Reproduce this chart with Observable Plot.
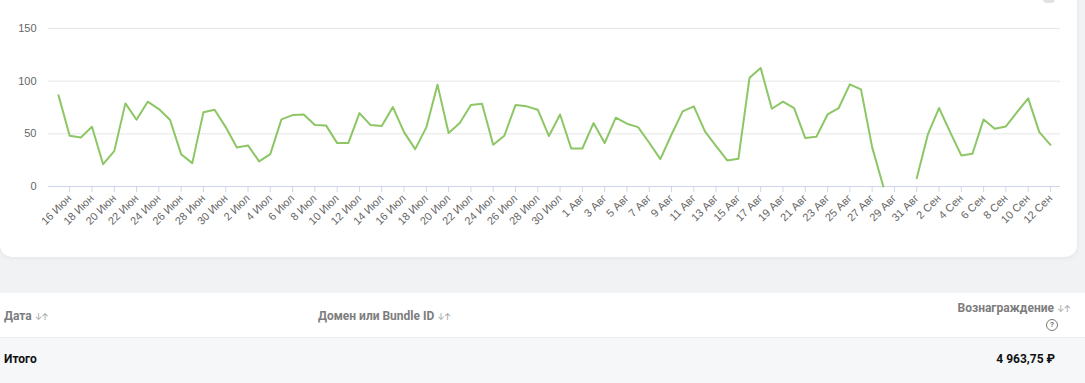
<!DOCTYPE html>
<html>
<head>
<meta charset="utf-8">
<script src="https://cdn.jsdelivr.net/npm/d3@7"></script>
<script src="https://cdn.jsdelivr.net/npm/@observablehq/plot@0.6"></script>
<style>
  html, body { margin: 0; padding: 0; }
  body { width: 1085px; height: 383px; overflow: hidden; position: relative; background: #f1f2f4; font-family: Roboto, Inter, "Noto Sans", sans-serif; }
  .card { position: absolute; left: 0; top: -12px; width: 1077px; height: 269px; background: #fff; border-radius: 12px; box-shadow: 0 1px 5px rgba(0,0,0,0.06); }
  #chart { position: absolute; left: 0; top: 0; }
  .topicon { position: absolute; left: 1043px; top: -6px; width: 12px; height: 9px; border-radius: 4px; background: #e2e2e2; }
  .thead { position: absolute; left: 0; top: 293px; width: 1085px; height: 45px; background: #fff; border-bottom: 1px solid #ebecee; box-sizing: border-box; }
  .trow { position: absolute; left: 0; top: 338px; width: 1085px; height: 45px; background: #f6f7f9; }
  .h { position: absolute; font-weight: 700; font-size: 12px; color: #7d7d7d; white-space: nowrap; line-height: 14px; }
  .s { font-size: 9px; color: #a0a0a0; font-weight: 400; margin-left: 3px; letter-spacing: -1px; }
  .q { position: absolute; left: 1046px; top: 26px; width: 10px; height: 10px; border: 1px solid #777; border-radius: 50%; font-size: 8px; line-height: 10px; text-align: center; color: #666; font-weight: 600; }
  .c { position: absolute; font-weight: 700; font-size: 12px; color: #111; white-space: nowrap; line-height: 14px; }
</style>
</head>
<body>
<div class="card"></div>
<div class="topicon"></div>
<div id="chart"></div>
<div class="thead">
  <div class="h" style="left:4px;top:16px">Дата<span class="s">↓↑</span></div>
  <div class="h" style="left:318px;top:16px">Домен или Bundle ID<span class="s">↓↑</span></div>
  <div class="h" style="right:15px;top:8px">Вознаграждение<span class="s">↓↑</span></div>
  <div class="q">?</div>
</div>
<div class="trow">
  <div class="c" style="left:4px;top:14px">Итого</div>
  <div class="c" style="right:30px;top:14px">4 963,75 ₽</div>
</div>
<script>
const months = ["Янв","Фев","Мар","Апр","Май","Июн","Июл","Авг","Сен","Окт","Ноя","Дек"];
const startDay = "2023-06-15";
const endDay = "2023-09-12";
// daily reward values, 15 Jun .. 12 Sep (null = no data)
const juneValues = [86.5, 48.2, 46.6, 56.7, 21.2, 33.6, 78.9, 63.4, 80.5, 73.5, 63.4, 30.7, 22.2, 70.4, 72.9, 56.4];
const julyValues = [37.1, 39.0, 23.8, 30.7, 63.7, 67.8, 68.4, 58.3, 58.0, 41.2, 41.2, 69.7, 58.3, 57.4, 75.4, 51.6, 35.5, 56.1, 96.7, 50.7, 60.2, 77.3, 78.6, 39.6, 48.2, 77.3, 76.1, 72.9, 47.9, 68.4, 36.1];
const augustValues = [36.1, 60.2, 41.2, 65.3, 59.6, 56.4, 41.5, 26.0, 49.4, 71.3, 76.1, 52.3, 38.3, 24.7, 26.3, 103.3, 112.5, 73.8, 80.5, 74.5, 46.0, 47.2, 68.4, 74.5, 97.0, 92.2, 37.4, 0, null, null, 7.9];
const septemberValues = [49.4, 74.5, 51.6, 29.5, 31.1, 63.7, 54.8, 57.0, 70.7, 83.7, 51.6, 39.6];
const yTicks = [0, 50, 100, 150];

const values = [...juneValues, ...julyValues, ...augustValues, ...septemberValues];
const start = new Date(startDay + "T00:00:00Z");
const end = new Date(endDay + "T00:00:00Z");
const dates = d3.utcDays(start, d3.utcDay.offset(end, 1));
const data = dates.map((d, i) => ({date: d, value: values[i]}));
const tickDates = dates.filter((d, i) => i % 2 === 1);
const fmt = d => `${d.getUTCDate()} ${months[d.getUTCMonth()]}`;
const pad = 0.9 * 864e5;

const chart = Plot.plot({
  width: 1085,
  height: 257,
  marginLeft: 48,
  marginRight: 25,
  marginTop: 28,
  marginBottom: 71,
  style: {fontFamily: "'Liberation Sans', Arial, sans-serif", fontSize: "11px", background: "transparent", overflow: "visible"},
  x: {type: "utc", domain: [new Date(+start - pad), new Date(+end + pad)]},
  y: {domain: [0, 150]},
  marks: [
    Plot.gridY([50, 100, 150], {stroke: "#e6e6e6", strokeOpacity: 1}),
    Plot.ruleY([0], {stroke: "#ccd6eb"}),
    Plot.axisY(yTicks, {tickSize: 0, tickPadding: 12, fill: "#666", label: null, fontSize: 11}),
    Plot.axisX(tickDates, {tickSize: 6, stroke: "#ccd6eb", strokeOpacity: 1, tickFormat: () => "", label: null}),
    Plot.axisX(tickDates, {tickSize: 0, tickPadding: 10, tickRotate: -45, fill: "#666", tickFormat: fmt, label: null, fontSize: 11}),
    Plot.line(data, {x: "date", y: "value", stroke: "#8cc665", strokeWidth: 2})
  ]
});
document.getElementById("chart").appendChild(chart);
</script>
</body>
</html>
